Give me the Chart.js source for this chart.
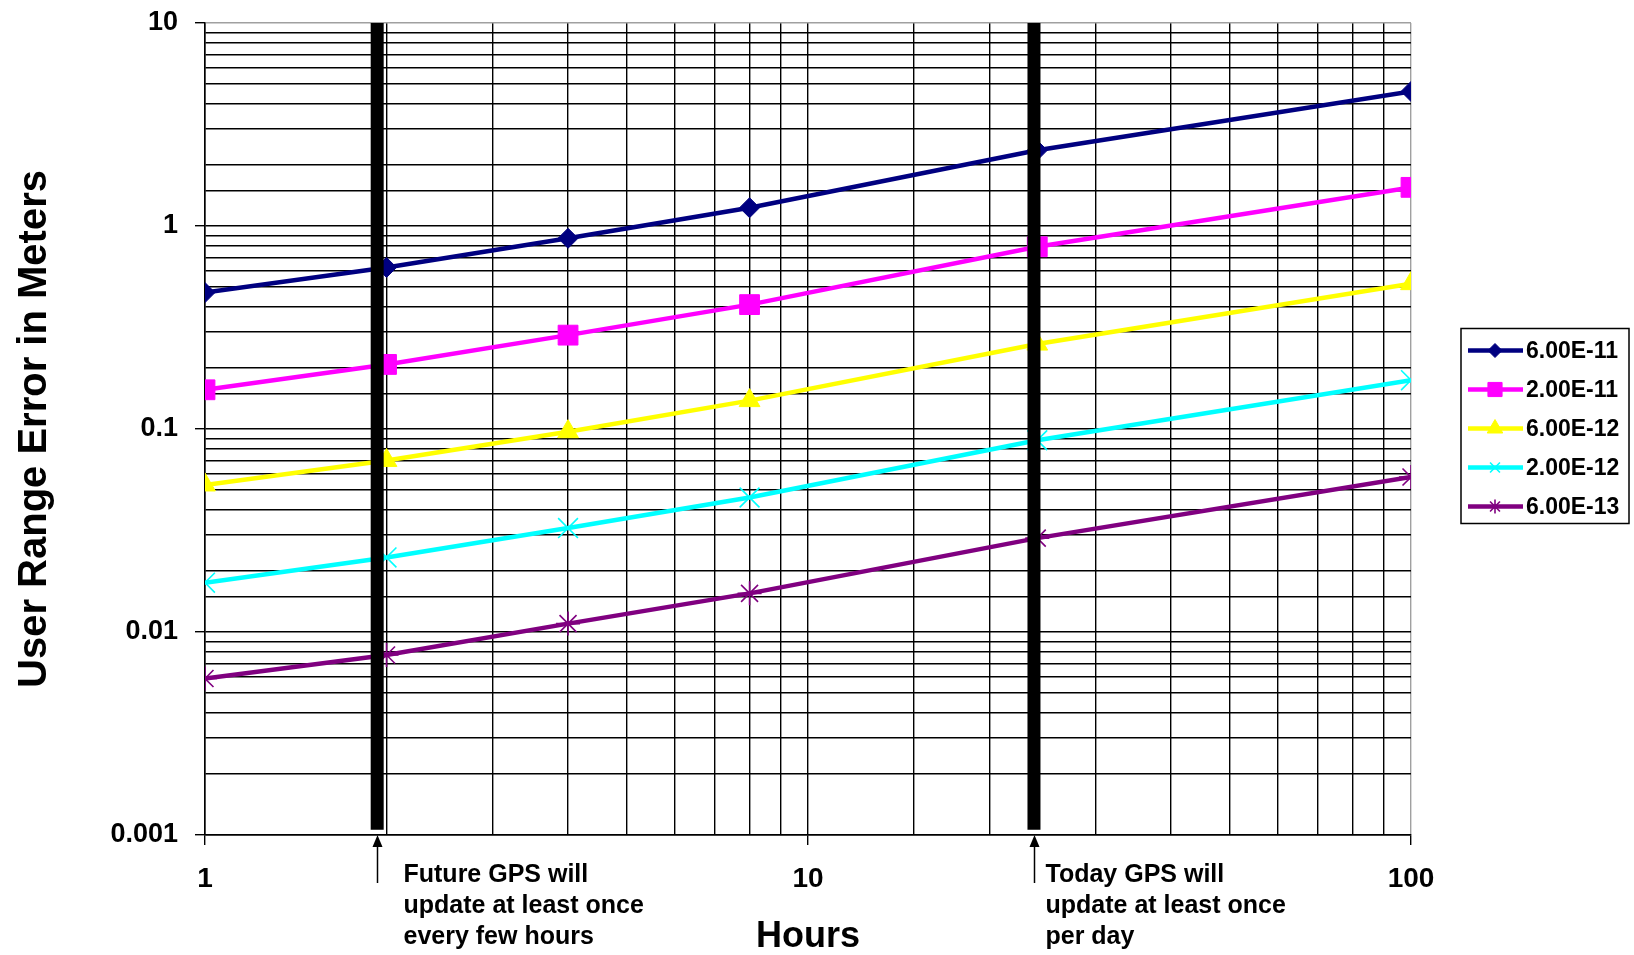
<!DOCTYPE html>
<html>
<head>
<meta charset="utf-8">
<script src="https://cdn.jsdelivr.net/npm/chart.js"></script>
<style>
  html, body { margin:0; padding:0; background:#fff; }
  canvas { display:block; }
</style>
</head>
<body>
<canvas id="chart" width="1634" height="955"></canvas>
<script>
// data (hours vs user range error, m)
const hours = [1, 2, 4, 8, 24, 100];
const seriesNames = ['6.00E-11', '2.00E-11', '6.00E-12', '2.00E-12', '6.00E-13'];
const err6e11 = [0.47, 0.625, 0.87, 1.23, 2.36, 4.6];
const err2e11 = [0.156, 0.208, 0.29, 0.41, 0.79, 1.55];
const err6e12 = [0.053, 0.07, 0.097, 0.138, 0.262, 0.52];
const err2e12 = [0.0175, 0.0233, 0.0325, 0.046, 0.088, 0.174];
const err6e13 = [0.0059, 0.0077, 0.011, 0.0155, 0.029, 0.058];
const xTicks = [1, 10, 100];
const yTicks = [0.001, 0.01, 0.1, 1, 10];

// the two thick "update" markers
const updateHours = [1.93, 23.7];
const updateSpan = [0.00106, 10];
const updateNotes = [
  ['Future GPS will', 'update at least once', 'every few hours'],
  ['Today GPS will', 'update at least once', 'per day']
];

// styles
const colors = ['#000080', '#ff00ff', '#ffff00', '#00ffff', '#800080'];
const styles = ['rectRot', 'rect', 'triangle', 'crossRot', 'star'];
const radii = [10, 14, 12, 14, 12];
const legendRadii = [7, 10, 9, 7, 7];
const noteOffsets = [26, 11];
const FONT = '"Liberation Sans", Arial, sans-serif';

const allSeries = [err6e11, err2e11, err6e12, err2e12, err6e13];

function isPow10(v) {
  const l = Math.log10(v);
  return Math.abs(l - Math.round(l)) < 1e-6;
}
function fmt(v) {
  return String(Number(v.toPrecision(1)));
}

const datasets = [];
updateHours.forEach((h, i) => {
  datasets.push({
    label: 'update' + i,
    data: updateSpan.map(y => ({x: h, y: y})),
    borderColor: '#000',
    borderWidth: 13,
    borderCapStyle: 'butt',
    pointRadius: 0,
    order: 0
  });
});
allSeries.forEach((vals, i) => {
  datasets.push({
    label: seriesNames[i],
    data: hours.map((h, k) => ({x: h, y: vals[k]})),
    borderColor: colors[i],
    backgroundColor: colors[i],
    borderWidth: 4.5,
    pointStyle: styles[i],
    pointRadius: radii[i],
    pointBorderWidth: (styles[i] === 'crossRot' || styles[i] === 'star') ? 1.6 : 1,
    pointBorderColor: colors[i],
    pointBackgroundColor: colors[i],
    order: 1
  });
});

const notesPlugin = {
  id: 'notes',
  afterDraw(chart) {
    const ctx = chart.ctx;
    const xs = chart.scales.x;
    const bottom = chart.chartArea.bottom;
    ctx.save();
    updateHours.forEach((h, i) => {
      const px = Math.round(xs.getPixelForValue(h)) + 0.5;
      // arrow
      ctx.strokeStyle = '#000';
      ctx.fillStyle = '#000';
      ctx.lineWidth = 1.5;
      ctx.beginPath();
      ctx.moveTo(px, bottom + 8);
      ctx.lineTo(px, bottom + 48);
      ctx.stroke();
      ctx.beginPath();
      ctx.moveTo(px, bottom);
      ctx.lineTo(px - 5, bottom + 12);
      ctx.lineTo(px + 5, bottom + 12);
      ctx.closePath();
      ctx.fill();
      // text
      ctx.font = 'bold 25px ' + FONT;
      ctx.textAlign = 'left';
      ctx.textBaseline = 'alphabetic';
      updateNotes[i].forEach((line, k) => {
        ctx.fillText(line, px + noteOffsets[i], bottom + 47 + k * 31);
      });
    });

    // legend box
    const area = chart.chartArea;
    const boxL = area.right + 50, boxW = 168, boxH = 195;
    const boxT = (area.top + area.bottom) / 2 - boxH / 2 - 3;
    ctx.lineWidth = 1.5;
    ctx.strokeStyle = '#000';
    ctx.strokeRect(boxL, boxT, boxW, boxH);
    seriesNames.forEach((name, i) => {
      const cy = boxT + 22 + i * 39;
      ctx.strokeStyle = colors[i];
      ctx.lineWidth = 4.5;
      ctx.beginPath();
      ctx.moveTo(boxL + 7, cy);
      ctx.lineTo(boxL + 62, cy);
      ctx.stroke();
      ctx.fillStyle = colors[i];
      ctx.lineWidth = (styles[i] === 'crossRot' || styles[i] === 'star') ? 1.6 : 1;
      Chart.helpers.drawPoint(ctx, {
        pointStyle: styles[i], rotation: 0, radius: legendRadii[i],
        borderWidth: ctx.lineWidth
      }, boxL + 34, cy);
      ctx.fillStyle = '#000';
      ctx.font = 'bold 23px ' + FONT;
      ctx.textAlign = 'left';
      ctx.textBaseline = 'middle';
      ctx.fillText(name, boxL + 65, cy + 1);
    });
    ctx.restore();
  }
};

new Chart(document.getElementById('chart'), {
  type: 'line',
  data: { datasets },
  options: {
    responsive: false,
    animation: false,
    devicePixelRatio: 1,
    layout: { padding: { top: 23, right: 223, left: 0, bottom: 0 } },
    plugins: {
      legend: { display: false },
      tooltip: { enabled: false }
    },
    scales: {
      x: {
        type: 'logarithmic',
        min: 1,
        max: 100,
        afterFit(s) { s.height = 120; s.paddingLeft = 0; s.paddingRight = 0; },
        border: { color: '#000', width: 1.5 },
        grid: {
          color: c => (c.tick && c.tick.value >= 100 ? '#a0a0a0' : '#000'),
          lineWidth: 1.4,
          drawTicks: true,
          tickLength: 10,
          tickColor: c => (c.tick && isPow10(c.tick.value) ? '#000' : 'rgba(0,0,0,0)'),
          tickWidth: 1.4
        },
        ticks: {
          autoSkip: false,
          maxRotation: 0,
          padding: 17,
          color: '#000',
          font: { family: FONT, size: 28, weight: 'bold' },
          callback: v => (xTicks.some(t => Math.abs(t - v) < 1e-9) ? fmt(v) : '')
        },
        title: {
          display: true,
          text: 'Hours',
          color: '#000',
          font: { family: FONT, size: 36, weight: 'bold' },
          padding: { top: 0, bottom: -4 }
        }
      },
      y: {
        type: 'logarithmic',
        min: 0.001,
        max: 10,
        afterFit(s) { s.width = 205; s.paddingTop = 0; s.paddingBottom = 0; },
        border: { color: '#000', width: 1.5 },
        grid: {
          color: c => (c.tick && c.tick.value >= 10 ? '#a0a0a0' : '#000'),
          lineWidth: 1.4,
          drawTicks: true,
          tickLength: 10,
          tickColor: c => (c.tick && isPow10(c.tick.value) ? '#000' : 'rgba(0,0,0,0)'),
          tickWidth: 1.4
        },
        ticks: {
          autoSkip: false,
          padding: 17,
          color: '#000',
          font: { family: FONT, size: 27, weight: 'bold' },
          callback: v => (yTicks.some(t => Math.abs(t - v) / t < 1e-6) ? fmt(v) : '')
        },
        title: {
          display: true,
          text: 'User Range Error in Meters',
          color: '#000',
          font: { family: FONT, size: 40, weight: 'bold' },
          padding: { top: 11, bottom: 0 }
        }
      }
    }
  },
  plugins: [notesPlugin]
});
</script>
</body>
</html>
